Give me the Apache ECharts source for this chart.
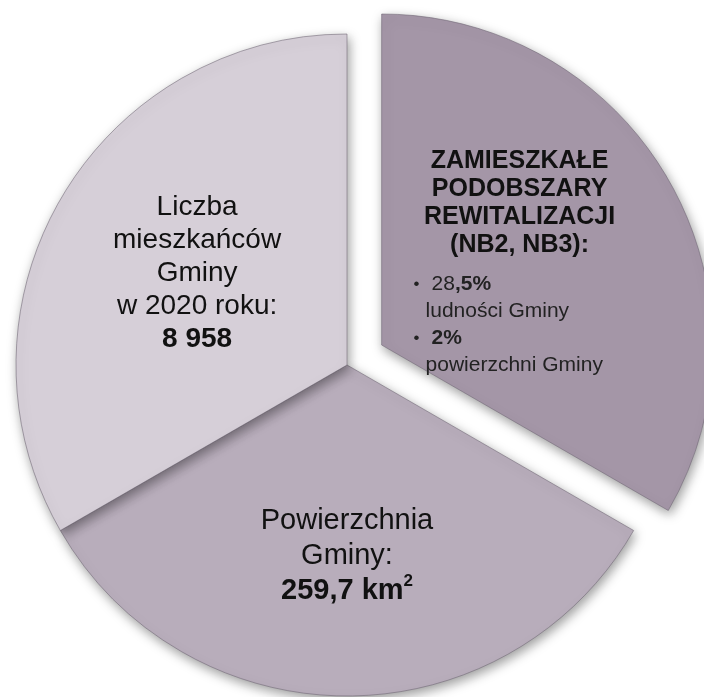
<!DOCTYPE html>
<html lang="pl">
	<head>
		<meta charset="UTF-8">
		<title></title>
		<style type="text/css">
			html,
			body {
				width: 100%;
				height: 100%;
				margin: 0;
				padding: 0;
				background: #fff;
			}

			#main {
				width: 704px;
				height: 697px;
			}
		</style>
	</head>
	<body>
		<div id="main"></div>

		<script src="https://cdn.jsdelivr.net/npm/echarts@6/dist/echarts.min.js" type="text/javascript" charset="utf-8"></script>
		<script type="text/javascript">
			// trzy rowne wycinki, podobszary wysuniete
			let names = ['Podobszary', 'Powierzchnia', 'Mieszkancy'];
			let values = [1, 1, 1];
			let labels = [
				'{h|ZAMIESZKAŁE}\n{h|PODOBSZARY}\n{h|REWITALIZACJI}\n{h|(NB2, NB3):}\n{gap| }\n' +
				'{dot|•}{n|28}{nb|,5%}\n{ind|ludności Gminy}\n{dot|•}{nb|2%}\n{ind|powierzchni Gminy}',
				'Powierzchnia\nGminy:\n{b|259,7 km}{sup|2}',
				'{l|Liczba}\n{l|mieszkańców}\n{l|Gminy}\n{l|w 2020 roku:}\n{lb|8 958}'
			];
			let colors = ['#a496a7', '#b8adbb', '#d6cfd8'];
			let shift = [[-8, 2], [0, 22], [-4, -7]];

			let pieData = names.map((n, i) => {
				return {
					name: n,
					value: values[i],
					selected: i === 0,
					itemStyle: { color: colors[i] },
					label: { formatter: labels[i] }
				};
			});

			const ff = 'Liberation Sans';
			var myChart = echarts.init(document.getElementById('main'));
			var option = {
				animation: false,
				series: [{
					type: 'pie',
					center: [347, 365],
					radius: 331,
					startAngle: 90,
					selectedMode: 'single',
					selectedOffset: 40,
					emphasis: { disabled: true },
					itemStyle: {
						borderColor: 'rgba(110, 100, 115, 0.55)',
						borderWidth: 1,
						shadowBlur: 12,
						shadowOffsetX: 2,
						shadowOffsetY: 4,
						shadowColor: 'rgba(0, 0, 0, 0.4)'
					},
					select: {
						itemStyle: {
							borderColor: 'rgba(110, 100, 115, 0.55)',
							borderWidth: 1
						}
					},
					label: {
						show: true,
						position: 'inside',
						color: '#111',
						fontFamily: ff,
						fontSize: 29,
						lineHeight: 35,
						rich: {
							l: { fontFamily: ff, fontSize: 28, lineHeight: 33, color: '#111' },
							lb: { fontFamily: ff, fontSize: 28, fontWeight: 'bold', lineHeight: 33, color: '#111' },
							b: { fontFamily: ff, fontSize: 29, fontWeight: 'bold', lineHeight: 35, color: '#111' },
							sup: { fontFamily: ff, fontSize: 17, fontWeight: 'bold', lineHeight: 35, verticalAlign: 'top', padding: [0, 0, 8, 0], color: '#111' },
							h: { fontFamily: ff, fontSize: 25, fontWeight: 'bold', lineHeight: 28, align: 'center', color: '#111' },
							gap: { fontSize: 1, lineHeight: 12, align: 'center' },
							dot: { fontFamily: ff, fontSize: 17, lineHeight: 27, align: 'left', padding: [0, 12, 0, 2], color: '#222' },
							n: { fontFamily: ff, fontSize: 21, lineHeight: 27, align: 'left', color: '#222' },
							nb: { fontFamily: ff, fontSize: 21, fontWeight: 'bold', lineHeight: 27, align: 'left', color: '#222' },
							ind: { fontFamily: ff, fontSize: 21, lineHeight: 27, align: 'left', padding: [0, 0, 0, 14], color: '#222' }
						}
					},
					labelLine: { show: false },
					labelLayout: function(params) {
						let s = shift[params.dataIndex];
						return { dx: s[0], dy: s[1] };
					},
					data: pieData
				}]
			};
			// stala szerokosc dla ramki z punktami
			option.series[0].data[0].label.width = 216;

			myChart.setOption(option);

			window.onresize = function() {
				myChart.resize();
			}
		</script>
	</body>
</html>
